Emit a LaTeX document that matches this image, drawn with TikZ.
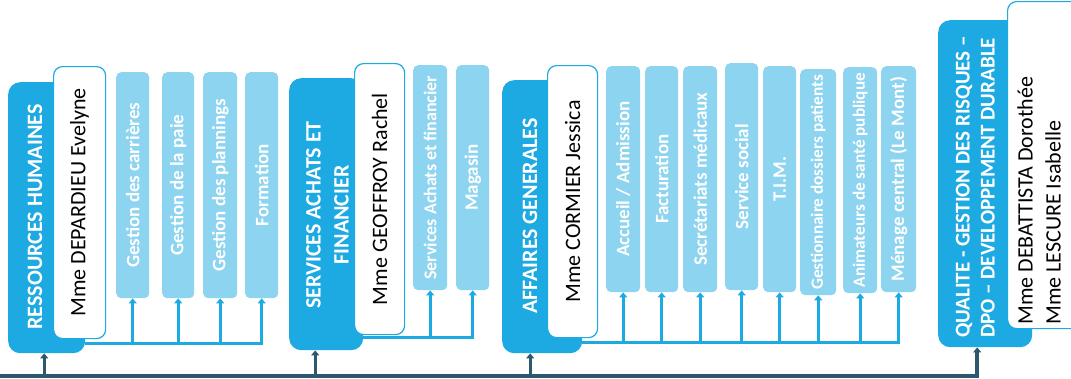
\documentclass[tikz,border=0pt]{standalone}
\usepackage{fontspec}
\setmainfont{Carlito}
\usetikzlibrary{arrows.meta}
\definecolor{dk}{RGB}{29,169,225}
\definecolor{lt}{RGB}{141,212,240}
\definecolor{nv}{RGB}{46,88,112}
\begin{document}
\begin{tikzpicture}[x=1pt,y=-1pt,
  dbox/.style={fill=dk, rounded corners=12pt, anchor=north west, inner sep=0pt},
  wbox/.style={fill=white, draw=dk, line width=1.2pt, rounded corners=9pt, anchor=north west, inner sep=0pt, font=\fontsize{22}{28}\selectfont},
  lbox/.style={fill=lt, rounded corners=5pt, anchor=north west, inner sep=0pt, text=white, font=\fontsize{19}{22}\selectfont\bfseries},
  lsmall/.style={font=\fontsize{17.2}{20}\selectfont\bfseries},
  lmid/.style={font=\fontsize{18}{21}\selectfont\bfseries},
  htext/.style={text=white, inner sep=0pt, font=\fontsize{22}{28}\selectfont\bfseries},
  bl/.style={draw=dk, line width=3pt},
  blarr/.style={bl, -{Triangle[width=8pt,length=5pt]}},
  nvarr/.style={draw=nv, line width=3pt, -{Triangle[width=8pt,length=5pt]}},
]
\clip (0,0) rectangle (1071,378);
\fill[white] (0,0) rectangle (1071,378);

% ---------- RESSOURCES HUMAINES
\node[dbox, minimum width=77pt, minimum height=271pt] (rh) at (8,82) {};
\node[htext] (rht) at (35,217) {\rotatebox{90}{RESSOURCES HUMAINES}};
\node[wbox, minimum width=52pt, minimum height=272pt] (rhw) at (53,66) {\rotatebox{90}{Mme DEPARDIEU Evelyne}};
\node[lbox, minimum width=33pt, minimum height=226pt] (rh1) at (116,72) {\rotatebox{90}{Gestion des carrières}};
\node[lbox, minimum width=32pt, minimum height=226pt] (rh2) at (162,72) {\rotatebox{90}{Gestion de la paie}};
\node[lbox, minimum width=34pt, minimum height=226pt] (rh3) at (203,72) {\rotatebox{90}{Gestion des plannings}};
\node[lbox, minimum width=33pt, minimum height=226pt] (rh4) at (245,72) {\rotatebox{90}{Formation}};

% ---------- SERVICES ACHATS ET FINANCIER
\node[dbox, minimum width=74pt, minimum height=272pt] (sa) at (289,78) {};
\node[htext] (sat) at (329,215) {\rotatebox{90}{\begin{tabular}{@{}c@{}}SERVICES ACHATS ET\\FINANCIER\end{tabular}}};
\node[wbox, minimum width=50pt, minimum height=271pt] (saw) at (354,63) {\rotatebox{90}{Mme GEOFFROY Rachel}};
\node[lbox, lmid, minimum width=34pt, minimum height=225pt] (sa1) at (413,65) {\rotatebox{90}{Services Achats et financier}};
\node[lbox, minimum width=33pt, minimum height=225pt] (sa2) at (456,65) {\rotatebox{90}{Magasin}};

% ---------- AFFAIRES GENERALES
\node[dbox, minimum width=80pt, minimum height=273pt] (ag) at (502,80) {};
\node[htext] (agt) at (530,216) {\rotatebox{90}{AFFAIRES GENERALES}};
\node[wbox, minimum width=50pt, minimum height=272pt] (agw) at (547,65) {\rotatebox{90}{Mme CORMIER Jessica}};
\node[lbox, minimum width=34pt, minimum height=226pt] (ag1) at (606,66) {\rotatebox{90}{Accueil / Admission}};
\node[lbox, minimum width=33pt, minimum height=226pt] (ag2) at (645,66) {\rotatebox{90}{Facturation}};
\node[lbox, minimum width=34pt, minimum height=226pt] (ag3) at (683,66) {\rotatebox{90}{Secrétariats médicaux}};
\node[lbox, minimum width=33pt, minimum height=227pt] (ag4) at (725,63) {\rotatebox{90}{Service social}};
\node[lbox, minimum width=33pt, minimum height=226pt] (ag5) at (763,66) {\rotatebox{90}{T.I.M.}};
\node[lbox, lsmall, minimum width=36pt, minimum height=226pt] (ag6) at (800,69) {\rotatebox{90}{Gestionnaire dossiers patients}};
\node[lbox, lsmall, minimum width=34pt, minimum height=226pt] (ag7) at (843,67) {\rotatebox{90}{Animateurs de santé publique}};
\node[lbox, minimum width=35pt, minimum height=226pt] (ag8) at (881,66) {\rotatebox{90}{Ménage central (Le Mont)}};

% ---------- QUALITE
\node[dbox, minimum width=94pt, minimum height=327pt] (q) at (938,20) {};
\node[htext, anchor=south, font=\fontsize{21}{25}\selectfont\bfseries] (qt) at (977,338) {\rotatebox{90}{\begin{tabular}{@{}l@{}}QUALITE - GESTION DES RISQUES –\\DPO – DEVELOPPEMENT DURABLE\end{tabular}}};
\node[wbox, minimum width=95pt, minimum height=327pt] (qw) at (1007,1) {};
\node[anchor=south, inner sep=0pt, font=\fontsize{22}{28}\selectfont] (qwt) at (1041,325) {\rotatebox{90}{\begin{tabular}{@{}l@{}}Mme DEBATTISTA Dorothée\\Mme LESCURE Isabelle\end{tabular}}};

% ---------- blue connectors
\coordinate (rhb) at (85,343);
\draw[blarr] (rhb) -| (rh4.south);
\foreach \n in {rh1,rh2,rh3} \draw[blarr] (rhb -| \n.south) -- (\n.south);

\coordinate (sab) at (363,337);
\draw[blarr] (sab) -| (sa2.south);
\draw[blarr] (sab -| sa1.south) -- (sa1.south);

\coordinate (agb) at (582,342);
\draw[blarr] (agb) -| (ag8.south);
\foreach \n in {ag1,ag2,ag3,ag4,ag5,ag6,ag7} \draw[blarr] (agb -| \n.south) -- (\n.south);

% ---------- navy bus
\coordinate (bus) at (0,376);
\coordinate (rha) at ([xshift=-2.5pt]rh.south);
\coordinate (saa) at ([xshift=-11pt]sa.south);
\coordinate (aga) at ([xshift=-12pt]ag.south);
\coordinate (qa) at ([xshift=-8pt]q.south);
\draw[nvarr, line width=3.5pt] (bus) -| (qa);
\foreach \n in {rha,saa,aga} \draw[nvarr] (bus -| \n) -- (\n);
\end{tikzpicture}
\end{document}
